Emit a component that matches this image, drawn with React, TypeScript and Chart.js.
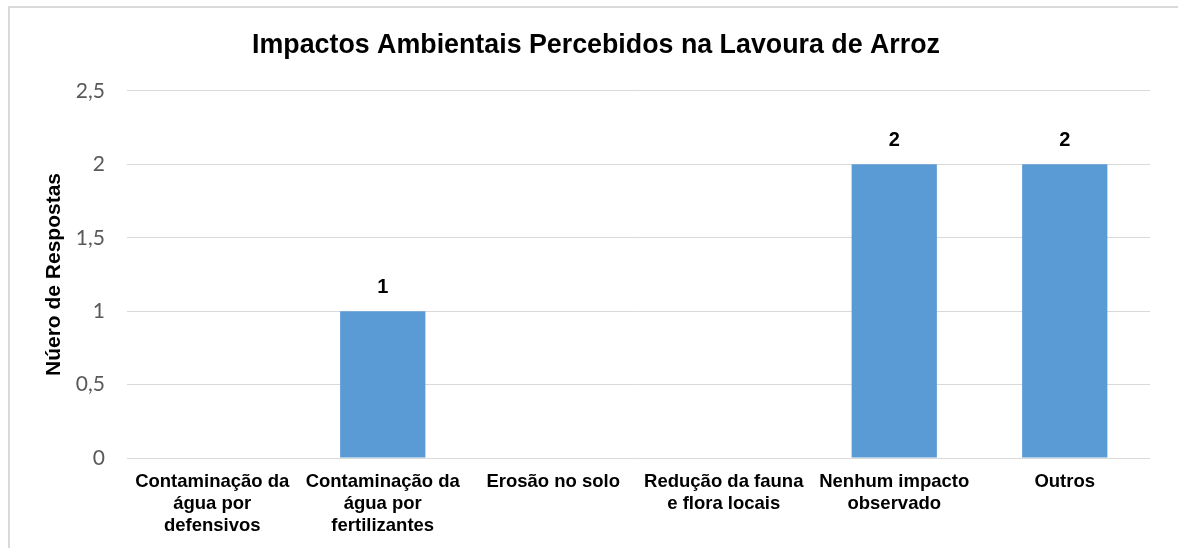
import React, { useEffect, useRef } from "react";
import { Chart, registerables } from "chart.js";

Chart.register(...registerables);

const chartTitle = "Impactos Ambientais Percebidos na Lavoura de Arroz";
const yAxisTitle = "Núero de Respostas";
const categories: (string | string[])[] = [
  ["Contaminação da", "água por", "defensivos"],
  ["Contaminação da", "água por", "fertilizantes"],
  "Erosão no solo",
  ["Redução da fauna", "e flora locais"],
  ["Nenhum impacto", "observado"],
  "Outros",
];
const responses = [0, 1, 0, 0, 2, 2];
const yMin = 0;
const yMax = 2.5;
const yStep = 0.5;

const W = 1178;
const H = 548;

const valueLabels = {
  id: "valueLabels",
  afterDatasetsDraw(chart: any) {
    const ctx = chart.ctx;
    const meta = chart.getDatasetMeta(0);
    const data = chart.data.datasets[0].data as number[];
    ctx.save();
    ctx.font = "bold 20px 'Liberation Sans', Arial, sans-serif";
    ctx.fillStyle = "#000000";
    ctx.textAlign = "center";
    ctx.textBaseline = "middle";
    meta.data.forEach((el: any, i: number) => {
      const v = data[i];
      if (!v) return;
      ctx.fillText(String(v), el.x, el.y - 24);
    });
    ctx.restore();
  },
};

export default function App() {
  const ref = useRef<HTMLCanvasElement | null>(null);

  useEffect(() => {
    if (!ref.current) return;
    const chart = new Chart(ref.current, {
      type: "bar",
      data: {
        labels: categories,
        datasets: [
          {
            data: responses,
            backgroundColor: "#5B9BD5",
            borderWidth: 0,
            categoryPercentage: 1,
            barPercentage: 0.5,
          },
        ],
      },
      options: {
        responsive: false,
        animation: false,
        layout: { padding: { left: 42, right: 28, top: 0, bottom: 0 } },
        plugins: {
          legend: { display: false },
          tooltip: { enabled: false },
          title: {
            display: true,
            text: chartTitle,
            color: "#000000",
            font: { family: "'Liberation Sans', Arial, sans-serif", size: 26.8, weight: "bold", lineHeight: 1.2 },
            padding: { top: 29.5, bottom: 29.3 },
          },
        },
        scales: {
          x: {
            grid: { display: false, drawTicks: false },
            border: { display: false },
            ticks: {
              autoSkip: false,
              maxRotation: 0,
              minRotation: 0,
              padding: 13,
              color: "#000000",
              font: { family: "'Liberation Sans', Arial, sans-serif", size: 18.5, weight: "bold", lineHeight: 1.19 },
            },
            afterFit: (s: any) => {
              s.height = 90;
            },
          },
          y: {
            min: yMin,
            max: yMax,
            grid: { color: "#D9D9D9", lineWidth: 1, drawTicks: false },
            border: { display: false },
            ticks: {
              stepSize: yStep,
              padding: 22,
              color: "#595959",
              font: { family: "Lato, 'Open Sans', sans-serif", size: 21 },
              callback: (v: any) => String(v).replace(".", ","),
            },
            title: {
              display: true,
              text: yAxisTitle,
              color: "#000000",
              font: { family: "'Liberation Sans', Arial, sans-serif", size: 21, weight: "bold", lineHeight: 1.2 },
              padding: { top: 0, bottom: 0 },
            },
            afterFit: (s: any) => {
              s.width = 85;
            },
          },
        },
      },
      plugins: [valueLabels],
    });
    return () => chart.destroy();
  }, []);

  return (
    <div style={{ position: "absolute", left: 0, top: 0, width: W, height: H, background: "#ffffff", overflow: "hidden" }}>
      <div
        style={{
          position: "absolute",
          left: 8,
          top: 6,
          width: W - 8,
          height: H - 6,
          boxSizing: "border-box",
          borderTop: "2px solid #D9D9D9",
          borderLeft: "2px solid #D9D9D9",
        }}
      />
      <canvas ref={ref} width={W} height={H} style={{ position: "absolute", left: 0, top: 0, width: W, height: H }} />
    </div>
  );
}
